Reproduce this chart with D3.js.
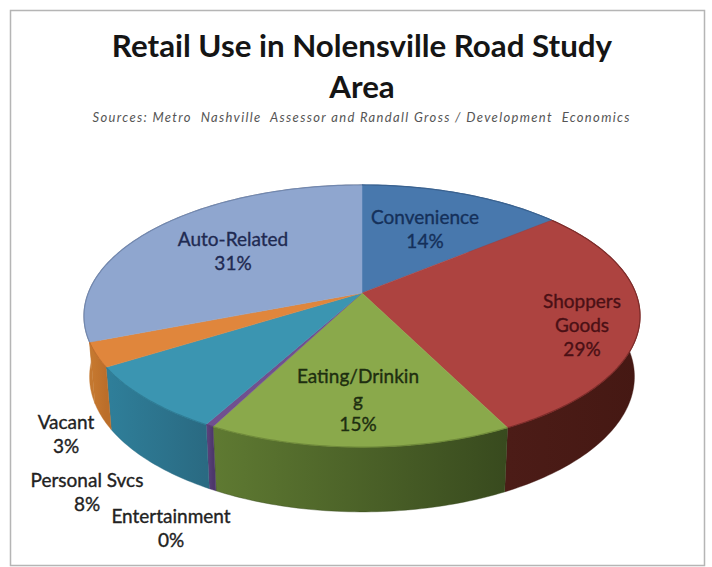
<!DOCTYPE html>
<html>
<head>
<meta charset="utf-8">
<script src="https://cdn.jsdelivr.net/npm/d3@7"></script>
<style>
  html, body { margin: 0; padding: 0; background: #fff; }
  svg { display: block; }
  text { font-family: Lato, "Open Sans", sans-serif; }
</style>
</head>
<body>
<svg id="chart" width="712" height="567"></svg>
<script>
// Retail floor-space shares, clockwise from twelve o'clock
const categories = ["Convenience", "Shoppers Goods", "Eating/Drinking", "Entertainment", "Personal Svcs", "Vacant", "Auto-Related"];
const shares = [14, 28.6, 15, 0.4, 8.1, 3, 30.9];
const topColors = ["#4878ad", "#ad4340", "#8aa94b", "#70508f", "#3b95b1", "#e0863c", "#8fa6cf"];
const rimColors = ["#3a6290", "#7d2c2a", "#6f8a3a", "#5a3f75", "#2f7c95", "#bf6f2e", "#7188b0"];
const sideLight = ["#2b4a70", "#4c1c17", "#5f7a32", "#5e4480", "#2f7f9a", "#c87a30", "#c47830"];
const sideDark  = ["#2b4a70", "#451813", "#384a1e", "#4d376b", "#2a6a82", "#bb6e2a", "#c47830"];
const textColors = ["#15305a", "#4a1015", "#1e2e10", "#222222", "#222222", "#222222", "#1f2a52"];
const titleLines = ["Retail Use in Nolensville Road Study", "Area"];
const subtitle = "Sources: Metro  Nashville  Assessor and Randall Gross / Development  Economics";

// Wrapped name lines per slice; the percentage line comes from the share itself
const nameLines = [["Convenience"], ["Shoppers", "Goods"], ["Eating/Drinkin", "g"], ["Entertainment"], ["Personal Svcs"], ["Vacant"], ["Auto-Related"]];
const labelAnchors = [[425, 224], [582, 308], [358, 383], [171, 523], [87, 487], [66, 429], [233, 246]];

const svg = d3.select("#chart");

// Perspective projection of a unit disc tilted away from the viewer
const apex = { x: 362, y: 293 };
const tilt = 0.1756;
const topPlane = { rx: 273.7, ry: 127, dy: 0 };
const basePlane = { rx: 268.2, ry: 131, dy: 60 };
function project(angle, plane) {
  const u = Math.sin(angle), v = -Math.cos(angle);
  const s = 1 / (1 - tilt * v);
  return [apex.x + plane.rx * u * s, apex.y + plane.dy + plane.ry * v * s];
}

const total = d3.sum(shares);
const arcs = d3.pie().sort(null).value(d => d)(shares);
const line = d3.line();
const STEP = Math.PI / 180;
const arcAngles = d => {
  const n = Math.max(2, Math.ceil((d.endAngle - d.startAngle) / STEP));
  return d3.range(n + 1).map(i => d.startAngle + (d.endAngle - d.startAngle) * i / n);
};

// Side-wall gradients run left to right across each slice
const defs = svg.append("defs");
arcs.forEach((d, i) => {
  const xs = arcAngles(d).map(a => project(a, topPlane)[0]);
  const g = defs.append("linearGradient")
    .attr("id", "wall" + i)
    .attr("gradientUnits", "userSpaceOnUse")
    .attr("x1", d3.min(xs)).attr("x2", d3.max(xs))
    .attr("y1", 0).attr("y2", 0);
  g.append("stop").attr("offset", 0).attr("stop-color", sideLight[i]);
  g.append("stop").attr("offset", 1).attr("stop-color", sideDark[i]);
});

// Chart frame
svg.append("path")
  .attr("d", "M10.5,10.5H704.5V565.5H10.5Z")
  .attr("fill", "none")
  .attr("stroke", "#b5b5b5")
  .attr("stroke-width", 1.5);

// Outer wall: top rim joined to base rim, the back part is covered by the top face
svg.append("g").selectAll("path").data(arcs).join("path")
  .attr("d", d => {
    const as = arcAngles(d);
    return line(as.map(a => project(a, topPlane)).concat(as.slice().reverse().map(a => project(a, basePlane)))) + "Z";
  })
  .attr("fill", (d, i) => `url(#wall${i})`)
  .attr("stroke", (d, i) => sideDark[i])
  .attr("stroke-width", 0.4);

// Top faces
svg.append("g").selectAll("path").data(arcs).join("path")
  .attr("d", d => line([[apex.x, apex.y]].concat(arcAngles(d).map(a => project(a, topPlane)))) + "Z")
  .attr("fill", (d, i) => topColors[i])
  .attr("stroke", (d, i) => topColors[i])
  .attr("stroke-width", 0.5);

// Darker bevel along the outer rim of each face
svg.append("g").selectAll("path").data(arcs).join("path")
  .attr("d", d => line(arcAngles(d).map(a => project(a, topPlane))))
  .attr("fill", "none")
  .attr("stroke", (d, i) => rimColors[i])
  .attr("stroke-width", 1.2);

// Title and source line
svg.append("g").selectAll("text").data(titleLines).join("text")
  .attr("x", 362).attr("y", (d, i) => 57 + i * 41)
  .attr("text-anchor", "middle")
  .attr("font-size", 31.3).attr("font-weight", 700)
  .style("fill", "#151515")
  .text(d => d);
svg.append("text")
  .attr("x", 361).attr("y", 122)
  .attr("text-anchor", "middle")
  .attr("font-size", 13).attr("font-style", "italic")
  .style("fill", "#555")
  .style("white-space", "pre")
  .attr("textLength", 537)
  .text(subtitle);

// Data labels: wrapped name lines followed by the rounded share
const labelData = arcs.map((d, i) => ({
  lines: nameLines[i].concat(Math.round(d.value / total * 100) + "%"),
  anchor: labelAnchors[i],
  color: textColors[i]
}));
const labels = svg.append("g").selectAll("g").data(labelData).join("g");
labels.selectAll("text")
  .data(d => d.lines.map((t, k) => ({ t, x: d.anchor[0], y: d.anchor[1] + k * 24, color: d.color })))
  .join("text")
  .attr("x", d => d.x).attr("y", d => d.y)
  .attr("text-anchor", "middle")
  .attr("font-size", 19)
  .style("fill", d => d.color)
  .style("stroke", d => d.color)
  .style("stroke-width", 0.35)
  .text(d => d.t);
</script>
</body>
</html>
